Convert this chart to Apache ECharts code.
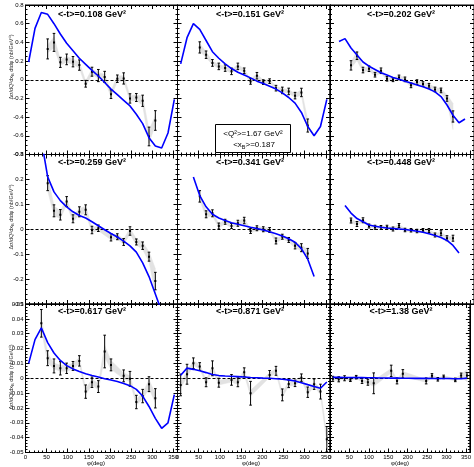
<!DOCTYPE html>
<html>
<head>
<meta charset="utf-8">
<script src="https://cdn.jsdelivr.net/npm/echarts@6/dist/echarts.min.js"></script>
<style>
  html, body { margin: 0; padding: 0; background: #fff; }
  #chart { width: 474px; height: 467px; }
</style>
</head>
<body>
<div id="chart"></div>
<script>
// bin centres in phi (deg)
const PHI = [7.5, 22.5, 37.5, 52.5, 67.5, 82.5, 97.5, 112.5, 127.5, 142.5, 157.5, 172.5,
             187.5, 202.5, 217.5, 232.5, 247.5, 262.5, 277.5, 292.5, 307.5, 322.5, 337.5, 352.5];

const T_LABELS = ['0.108', '0.151', '0.202', '0.259', '0.341', '0.448', '0.617', '0.871', '1.38'];

// <-t>=0.108
const val108 = [null,null,null,0.33,0.40,0.186,0.218,0.193,0.157,-0.043,0.086,0.045,0.03,-0.154,0.011,0.014,-0.20,-0.19,-0.225,-0.607,-0.436,null,null,null];
const err108 = [null,null,null,0.107,0.096,0.054,0.057,0.055,0.055,0.036,0.048,0.065,0.06,0.046,0.04,0.06,0.05,0.043,0.06,0.10,0.105,null,null,null];
const sys108 = [null,null,null,0.04,0.06,0.03,0.03,0.03,0.03,0.03,0.03,0.03,0.03,0.03,0.03,0.03,0.03,0.03,0.05,0.07,0.05,null,null,null];
const fit108 = [0.19,0.55,0.72,0.70,0.60,0.49,0.39,0.31,0.23,0.165,0.10,0.04,-0.03,-0.10,-0.16,-0.22,-0.28,-0.37,-0.47,-0.62,-0.71,-0.73,-0.57,-0.21];

// <-t>=0.151
const val151 = [null,null,null,0.346,0.268,0.18,0.143,0.125,0.09,0.143,0.096,-0.018,0.043,-0.025,-0.015,-0.09,-0.114,-0.125,-0.17,-0.136,-0.49,null,null,null];
const err151 = [null,null,null,0.06,0.04,0.036,0.035,0.035,0.035,0.035,0.03,0.03,0.035,0.025,0.025,0.03,0.035,0.035,0.035,0.045,0.07,null,null,null];
const sys151 = [null,null,null,0.04,0.03,0.02,0.02,0.02,0.02,0.02,0.02,0.02,0.02,0.02,0.02,0.02,0.02,0.02,0.02,0.03,0.06,null,null,null];
const fit151 = [0.17,0.45,0.60,0.54,0.42,0.30,0.23,0.17,0.12,0.08,0.05,0.02,-0.015,-0.04,-0.07,-0.10,-0.14,-0.19,-0.25,-0.35,-0.50,-0.60,-0.50,-0.21];

// <-t>=0.202
const val202 = [null,null,null,0.154,0.257,0.104,0.118,0.054,0.096,0.011,0.0,0.025,0.004,-0.06,-0.025,-0.046,-0.064,-0.104,-0.114,-0.20,-0.393,null,null,null];
const err202 = [null,null,null,0.05,0.04,0.03,0.03,0.025,0.03,0.025,0.02,0.025,0.025,0.025,0.025,0.025,0.025,0.025,0.025,0.03,0.06,null,null,null];
const sys202 = [null,null,null,0.03,0.05,0.02,0.02,0.02,0.02,0.02,0.02,0.02,0.02,0.02,0.02,0.02,0.02,0.02,0.02,0.04,0.14,null,null,null];
const fit202 = [null,0.41,0.44,0.34,0.265,0.19,0.145,0.11,0.075,0.05,0.025,0.005,-0.015,-0.035,-0.055,-0.075,-0.10,-0.13,-0.18,-0.27,-0.38,-0.46,-0.42,null];

// <-t>=0.259
const val259 = [null,null,null,0.185,0.074,0.058,0.111,0.042,0.07,0.078,-0.003,0.004,null,-0.032,-0.03,-0.051,-0.007,-0.051,-0.066,-0.11,-0.208,null,null,null];
const err259 = [null,null,null,0.03,0.024,0.021,0.02,0.016,0.02,0.02,0.015,0.013,null,0.015,0.012,0.014,0.017,0.012,0.015,0.018,0.035,null,null,null];
const sys259 = [null,null,null,0.03,0.02,0.015,0.012,0.012,0.012,0.015,0.01,0.01,null,0.01,0.01,0.01,0.012,0.012,0.015,0.02,0.05,null,null,null];
const fit259 = [null,null,0.36,0.21,0.15,0.115,0.09,0.07,0.055,0.045,0.03,0.014,-0.002,-0.017,-0.031,-0.048,-0.067,-0.092,-0.135,-0.19,-0.26,-0.33,null,null];

// <-t>=0.341
const val341 = [null,null,null,0.132,0.06,0.064,0.013,0.03,0.013,0.024,0.035,-0.007,0.004,0.0,-0.003,-0.047,-0.03,-0.043,-0.066,-0.074,-0.097,null,null,null];
const err341 = [null,null,null,0.023,0.014,0.014,0.012,0.01,0.01,0.012,0.013,0.01,0.01,0.01,0.01,0.012,0.01,0.01,0.013,0.016,0.02,null,null,null];
const sys341 = [null,null,null,0.015,0.012,0.01,0.008,0.008,0.008,0.008,0.008,0.008,0.008,0.008,0.008,0.008,0.008,0.008,0.01,0.012,0.015,null,null,null];
const fit341 = [null,null,0.21,0.135,0.09,0.06,0.045,0.035,0.026,0.02,0.014,0.008,0.003,-0.003,-0.01,-0.018,-0.027,-0.038,-0.052,-0.078,-0.12,-0.19,null,null];

// <-t>=0.448
const val448 = [null,null,null,0.035,0.021,0.036,0.013,0.008,0.007,0.008,0.001,0.015,-0.003,-0.004,-0.007,-0.004,-0.005,-0.023,-0.016,-0.036,-0.036,null,null,null];
const err448 = [null,null,null,0.01,0.01,0.01,0.008,0.008,0.008,0.008,0.008,0.008,0.007,0.007,0.007,0.007,0.008,0.008,0.01,0.01,0.012,null,null,null];
const sys448 = [null,null,null,0.008,0.006,0.006,0.005,0.005,0.005,0.005,0.005,0.005,0.005,0.005,0.005,0.005,0.005,0.005,0.005,0.006,0.008,null,null,null];
const fit448 = [null,null,0.095,0.065,0.043,0.03,0.017,0.012,0.008,0.005,0.003,0.001,-0.001,-0.004,-0.008,-0.012,-0.018,-0.025,-0.033,-0.045,-0.065,-0.095,null,null];

// <-t>=0.617
const val617 = [null,null,0.037,0.0135,0.0083,0.0067,0.0067,0.0083,0.0117,-0.009,-0.0027,-0.0056,0.018,0.009,null,0.0016,-0.0004,-0.016,-0.012,-0.004,-0.0135,null,null,null];
const err617 = [null,null,0.0093,0.005,0.0047,0.0045,0.0035,0.003,0.0035,0.0045,0.0035,0.004,0.011,0.004,null,0.004,0.005,0.0045,0.0045,0.005,0.0065,null,null,null];
const sys617 = [null,null,0.004,0.003,0.002,0.002,0.002,0.002,0.002,0.002,0.002,0.002,0.004,0.003,null,0.002,0.002,0.002,0.002,0.003,0.003,null,null,null];
const fit617 = [0.010,0.026,0.034,0.024,0.017,0.012,0.0085,0.0063,0.0045,0.003,0.0018,0.0008,-0.0003,-0.0012,-0.0022,-0.0035,-0.005,-0.0075,-0.012,-0.019,-0.027,-0.0337,-0.030,-0.011];

// <-t>=0.871
const val871 = [-0.0045,0.0027,0.0101,0.0079,-0.0027,0.0067,-0.003,null,-0.0011,-0.0027,0.004,-0.0101,null,null,0.0022,0.005,-0.0112,-0.0038,-0.0034,0.0004,-0.0094,-0.004,-0.009,-0.041];
const err871 = [0.0073,0.0067,0.0036,0.0026,0.003,0.005,0.003,null,0.0036,0.003,0.003,0.008,null,null,0.003,0.003,0.004,0.0025,0.0022,0.0025,0.0035,0.0035,0.005,0.0085];
const sys871 = [0.002,0.002,0.0015,0.0015,0.0015,0.0015,0.0015,null,0.0015,0.0015,0.0015,0.002,null,null,0.0015,0.0015,0.0015,0.0015,0.0015,0.0015,0.0015,0.0015,0.002,0.003];
const fit871 = [0.002,0.0068,0.006,0.005,0.0038,0.0025,0.0018,0.0015,0.0013,0.0011,0.0008,0.0005,0.0003,0.0001,0,-0.0003,-0.0007,-0.0011,-0.0018,-0.003,-0.0043,-0.0055,-0.0067,-0.0025];

// <-t>=1.38
const val138 = [-0.0004,-0.0007,0,-0.001,0.0007,-0.0018,-0.0027,-0.0034,null,null,0.005,-0.0018,0.003,null,null,null,-0.0018,0.0016,-0.0007,0.0009,null,-0.0011,0.0018,0.0018];
const err138 = [0.0017,0.0017,0.0017,0.0012,0.0012,0.0017,0.002,0.007,null,null,0.0038,0.002,0.0028,null,null,null,0.002,0.0015,0.0012,0.0012,null,0.0012,0.0017,0.002];
const sys138 = [0.0008,0.0008,0.0008,0.0008,0.0008,0.0008,0.001,0.002,null,null,0.0015,0.001,0.0015,null,null,null,0.001,0.001,0.0008,0.0008,null,0.0008,0.001,0.004];
const fit138 = [0.0006,0.0006,0.0005,0.0005,0.0004,0.0004,0.0003,0.0003,0.0002,0.0002,0.0001,0.0001,0,0,-0.0001,-0.0001,-0.0001,-0.0002,-0.0002,-0.0002,-0.0002,-0.0003,-0.0003,0.0001];

const panels = [
    {val: val108, err: err108, sys: sys108, fit: fit108},
    {val: val151, err: err151, sys: sys151, fit: fit151},
    {val: val202, err: err202, sys: sys202, fit: fit202},
    {val: val259, err: err259, sys: sys259, fit: fit259},
    {val: val341, err: err341, sys: sys341, fit: fit341},
    {val: val448, err: err448, sys: sys448, fit: fit448},
    {val: val617, err: err617, sys: sys617, fit: fit617},
    {val: val871, err: err871, sys: sys871, fit: fit871},
    {val: val138, err: err138, sys: sys138, fit: fit138}
];

const FONT = '"Liberation Sans", Arial, Helvetica, sans-serif';

// pad layout (pixels), one entry per column / row
const COLS = [{left: 25.5, width: 152}, {left: 177.5, width: 152.5}, {left: 330, width: 146}];
const ROWS = [
    {top: 5, height: 149.5, min: -0.8, max: 0.8, step: 0.2, minor: 4, title: 15, ytitle: 67},
    {top: 154.5, height: 149.5, min: -0.3, max: 0.3, step: 0.1, minor: 5, title: 163, ytitle: 217},
    {top: 304, height: 148.5, min: -0.05, max: 0.05, step: 0.01, minor: 5, title: 312, ytitle: 377}
];
const TITLE_X = [92, 250, 401];
const XTITLE_X = [96, 251, 400];

const black = {color: '#000', width: 1};

const grid = [], xAxis = [], yAxis = [], series = [], graphic = [];

function yFmt(v) {
    const s = +v.toFixed(3);
    return s === 0 ? '0' : String(s);
}

function xAxisPair(k, pos, labels) {
    xAxis.push({
        gridIndex: k, type: 'value', min: 0, max: 360, interval: 50, position: pos,
        axisLine: {show: true, onZero: false, lineStyle: black},
        axisTick: {show: true, inside: true, length: 4, lineStyle: black},
        axisLabel: {
            show: labels, margin: 2, fontSize: 6, color: '#000', fontFamily: FONT,
            formatter: v => v > 355 ? '' : String(v)
        },
        splitLine: {show: false}
    });
    // minor ticks every 10 deg
    xAxis.push({
        gridIndex: k, type: 'value', min: 0, max: 360, interval: 10, position: pos,
        axisLine: {show: false, onZero: false},
        axisTick: {show: true, inside: true, length: 2, lineStyle: black},
        axisLabel: {show: false},
        splitLine: {show: false}
    });
}

function renderBand(params, api) {
    const x1 = api.value(0), y1 = api.value(1), s1 = api.value(2);
    const x2 = api.value(3), y2 = api.value(4), s2 = api.value(5);
    const pts = [api.coord([x1, y1 + s1]), api.coord([x2, y2 + s2]),
                 api.coord([x2, y2 - s2]), api.coord([x1, y1 - s1])];
    return {
        type: 'polygon', shape: {points: pts},
        style: {fill: '#e2e2e2', stroke: '#e2e2e2', lineWidth: 0.5}
    };
}

function renderErr(params, api) {
    const x = api.value(0), y = api.value(1), e = api.value(2);
    const c = api.coord([x, y]), t = api.coord([x, y + e]), b = api.coord([x, y - e]);
    const st = {stroke: '#000', lineWidth: 1};
    return {
        type: 'group', children: [
            {type: 'line', shape: {x1: c[0], y1: t[1], x2: c[0], y2: b[1]}, style: st},
            {type: 'line', shape: {x1: c[0] - 1.3, y1: t[1], x2: c[0] + 1.3, y2: t[1]}, style: st},
            {type: 'line', shape: {x1: c[0] - 1.3, y1: b[1], x2: c[0] + 1.3, y2: b[1]}, style: st},
            {type: 'rect', shape: {x: c[0] - 1, y: c[1] - 1, width: 2, height: 2}, style: {fill: '#000'}}
        ]
    };
}

panels.forEach((p, k) => {
    const row = ROWS[Math.floor(k / 3)];
    const col = COLS[k % 3];
    const isLeft = k % 3 === 0;
    const isBottom = k >= 6;

    grid.push({
        left: col.left, width: col.width, top: row.top, height: row.height,
        show: true, borderColor: '#000', borderWidth: 1, backgroundColor: '#fff'
    });

    const xi = xAxis.length;
    xAxisPair(k, 'bottom', isBottom);
    xAxisPair(k, 'top', false);

    const yi = yAxis.length;
    [['left', isLeft], ['right', false]].forEach(([pos, lab]) => {
        yAxis.push({
            gridIndex: k, type: 'value', min: row.min, max: row.max, interval: row.step, position: pos,
            axisLine: {show: true, onZero: false, lineStyle: black},
            axisTick: {show: true, inside: true, length: 4, lineStyle: black},
            minorTick: {show: true, splitNumber: row.minor, length: 2, lineStyle: black},
            axisLabel: {show: lab, margin: 2, fontSize: 6, color: '#000', fontFamily: FONT, formatter: yFmt},
            splitLine: {show: false}
        });
    });

    // systematic band between consecutive measured bins
    const idx = PHI.map((_, i) => i).filter(i => p.val[i] != null);
    const segs = [];
    for (let j = 0; j < idx.length - 1; j++) {
        const a = idx[j], b = idx[j + 1];
        segs.push([PHI[a], p.val[a], p.sys[a], PHI[b], p.val[b], p.sys[b]]);
    }
    series.push({
        type: 'custom', xAxisIndex: xi, yAxisIndex: yi, clip: true, silent: true, z: 1,
        data: segs, renderItem: renderBand
    });

    series.push({
        type: 'custom', xAxisIndex: xi, yAxisIndex: yi, clip: true, silent: true, z: 4,
        data: idx.map(i => [PHI[i], p.val[i], p.err[i]]), renderItem: renderErr
    });

    series.push({
        type: 'line', xAxisIndex: xi, yAxisIndex: yi, clip: true, silent: true, z: 5,
        symbol: 'none',
        data: PHI.map((x, i) => [x, p.fit[i]]).filter(d => d[1] != null),
        lineStyle: {color: '#0000ff', width: 1.6},
        markLine: {
            silent: true, symbol: 'none', label: {show: false},
            lineStyle: {color: '#000', type: [3, 2], width: 1},
            data: [{yAxis: 0}]
        }
    });

    graphic.push({
        type: 'text', x: TITLE_X[k % 3], y: row.title, z: 100,
        style: {
            text: '<-t>=' + T_LABELS[k] + ' GeV²', fontSize: 9, fontWeight: 'bold',
            fontFamily: FONT, fill: '#000', align: 'center', verticalAlign: 'middle'
        }
    });
});

// axis titles
ROWS.forEach(row => {
    graphic.push({
        type: 'text', x: 11, y: row.ytitle, rotation: Math.PI / 2, z: 100,
        style: {
            text: '{n|Δσ/dQ²dx}{s|B}{n| dtdφ (nb/GeV⁴)}',
            align: 'center', verticalAlign: 'middle', fill: '#333',
            rich: {
                n: {fontSize: 5.5, lineHeight: 8, fontFamily: FONT, fill: '#333'},
                s: {fontSize: 4, lineHeight: 4, fontFamily: FONT, fill: '#333', verticalAlign: 'bottom'}
            }
        }
    });
});
XTITLE_X.forEach(x => {
    graphic.push({
        type: 'text', x: x, y: 463, z: 100,
        style: {text: 'φ(deg)', fontSize: 6, fontFamily: FONT, fill: '#000', align: 'center', verticalAlign: 'middle'}
    });
});

// kinematics box
graphic.push({
    type: 'rect', z: 90,
    shape: {x: 215.5, y: 124.5, width: 75, height: 28},
    style: {fill: '#fff', stroke: '#000', lineWidth: 1}
});
graphic.push({
    type: 'text', x: 253, y: 134, z: 100,
    style: {text: '<Q²>=1.67 GeV²', fontSize: 8, fontFamily: FONT, fill: '#000', align: 'center', verticalAlign: 'middle'}
});
graphic.push({
    type: 'text', x: 254, y: 145, z: 100,
    style: {
        text: '{n|<x}{s|B}{n|>=0.187}', align: 'center', verticalAlign: 'middle',
        rich: {
            n: {fontSize: 8, lineHeight: 11, fontFamily: FONT, fill: '#000'},
            s: {fontSize: 5.5, lineHeight: 6, fontFamily: FONT, fill: '#000', verticalAlign: 'bottom'}
        }
    }
});

const chart = echarts.init(document.getElementById('chart'));
chart.setOption({
    animation: false,
    backgroundColor: '#fff',
    grid: grid,
    xAxis: xAxis,
    yAxis: yAxis,
    series: series,
    graphic: graphic
});
</script>
</body>
</html>
